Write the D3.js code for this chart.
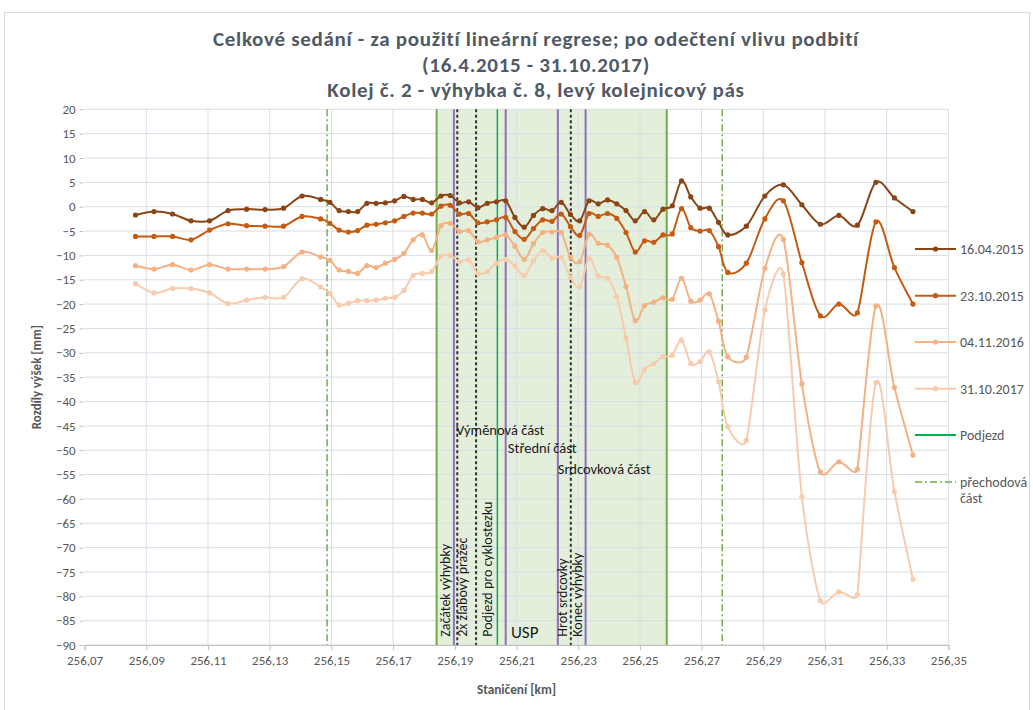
<!doctype html>
<html lang="cs">
  <head>
    <meta charset="utf-8">
    <title>Celkové sedání</title>
    <style>
      body { margin: 0; background: #fff; }
      text { font-family: Carlito, Calibri, Lato, "Open Sans", sans-serif; }
    </style>
  </head>
  <body>
    <div id="chart"></div>

    <script src="https://cdn.jsdelivr.net/npm/d3@7"></script>
    <script>

    // stations [km] - 6 m step at the ends, 3 m step through the turnout
    var stations = [
      256.0865, 256.0925, 256.0985, 256.1045, 256.1105, 256.1165, 256.1225, 256.1285, 256.1345, 256.1405, 256.1465,
      256.1495, 256.1525, 256.1555, 256.1585, 256.1615, 256.1645, 256.1675, 256.1705, 256.1735, 256.1765,
      256.1795, 256.1825, 256.1855, 256.1885, 256.1915, 256.1945, 256.1975, 256.2005, 256.2035, 256.2065,
      256.2095, 256.2125, 256.2155, 256.2185, 256.2215, 256.2245, 256.2275, 256.2305, 256.2335, 256.2365,
      256.2395, 256.2425, 256.2455, 256.2485, 256.2515, 256.2545, 256.2575, 256.2605, 256.2635, 256.2665,
      256.2695, 256.2725, 256.2755, 256.2785,
      256.2845, 256.2905, 256.2965, 256.3025, 256.3085, 256.3145, 256.3205, 256.3265, 256.3325, 256.3385
    ];

    var s16042015 = [
      -1.7, -1.0, -1.5, -2.9, -2.9, -0.8, -0.5, -0.6, -0.3, 2.2, 1.5,
      0.9, -0.8, -1.0, -1.0, 0.7, 0.7, 0.8, 1.2, 2.1, 1.5,
      1.5, 0.8, 2.2, 2.3, 0.8, 1.0, -0.2, 0.7, 1.0, 1.2,
      -2.2, -4.2, -1.8, -0.4, -0.8, 0.9, -1.6, -2.9, 1.2, 0.6,
      1.4, 0.6, -0.8, -2.9, -1.0, -2.7, -0.5, 0.2, 5.3, 2.0,
      -0.3, -0.3, -3.2, -5.8,
      -4.0, 2.2, 4.5, 0.4, -3.6, -1.8, -3.8, 5.0, 1.8, -1.0
    ];

    var s23102015 = [
      -6.1, -6.1, -6.1, -6.8, -4.8, -3.5, -3.9, -4.0, -4.0, -2.0, -2.5,
      -3.4, -4.8, -5.2, -4.9, -3.8, -3.6, -3.3, -2.9, -2.0, -1.3,
      -1.3, -1.5, 0.1, 0.3, -1.5, -1.4, -3.3, -3.1, -2.7, -2.2,
      -5.1, -6.7, -4.5, -2.7, -3.0, -1.5, -4.1, -5.9, -1.4, -2.0,
      -1.4, -2.4, -5.3, -9.3, -7.0, -7.3, -5.8, -5.6, -0.4, -4.3,
      -5.0, -4.9, -8.2, -13.5,
      -11.6, -2.5, 1.2, -11.5, -22.4, -20.0, -21.8, -3.1, -12.5, -20.0
    ];

    var s04112016 = [
      -12.1, -12.8, -11.9, -13.0, -11.9, -12.8, -12.8, -12.8, -12.3, -9.3, -10.3,
      -11.0, -13.0, -13.3, -13.7, -12.1, -12.5, -11.6, -10.8, -9.6, -6.8,
      -5.8, -9.0, -3.9, -3.4, -5.1, -4.9, -7.2, -6.8, -6.3, -5.8,
      -8.1, -10.8, -7.6, -5.3, -5.2, -5.3, -10.4, -11.3, -5.7, -7.5,
      -7.9, -10.4, -16.4, -23.4, -20.3, -19.6, -18.7, -19.0, -14.7, -19.4,
      -19.2, -17.9, -23.5, -30.8,
      -30.9, -12.7, -6.7, -36.4, -54.5, -52.4, -53.9, -20.4, -37.1, -51.0
    ];

    var s31102017 = [
      -15.8, -17.7, -16.8, -16.8, -17.7, -19.9, -19.2, -18.6, -18.6, -14.8, -16.5,
      -17.8, -20.2, -19.8, -19.3, -19.3, -19.2, -18.8, -18.6, -17.2, -14.1,
      -13.7, -13.3, -10.2, -10.0, -11.3, -10.9, -13.7, -13.3, -11.6, -10.8,
      -12.2, -14.1, -11.1, -9.0, -10.6, -10.4, -14.5, -16.4, -10.6, -14.2,
      -14.7, -18.5, -27.0, -36.1, -33.4, -32.2, -30.8, -30.5, -27.4, -32.2,
      -31.8, -29.8, -35.9, -45.2,
      -48.0, -21.2, -13.8, -59.5, -80.9, -79.1, -79.7, -36.1, -58.5, -76.5
    ];

    var seriesNames = ["16.04.2015", "23.10.2015", "04.11.2016", "31.10.2017"];
    var seriesValues = [s16042015, s23102015, s04112016, s31102017];
    var seriesColors = ["#8a4516", "#c55a11", "#f4b183", "#f8cbad"];

    var xTicks = [256.07, 256.09, 256.11, 256.13, 256.15, 256.17, 256.19, 256.21, 256.23, 256.25, 256.27, 256.29, 256.31, 256.33, 256.35];
    var yTicks = [20, 15, 10, 5, 0, -5, -10, -15, -20, -25, -30, -35, -40, -45, -50, -55, -60, -65, -70, -75, -80, -85, -90];

    // vertical markers [km]
    var transitionKm = [256.1486, 256.2767];   // přechodová část
    var turnoutArea = [256.1841, 256.2587];    // shaded section
    var purpleKm = [256.1897, 256.2065, 256.2234, 256.2324];
    var dashedKm = [256.1908, 256.1969, 256.2276];
    var underpassKm = [256.2038];              // Podjezd

    // annotations anchored in data units [km, mm]
    var verticalLabels = [
      { text: "Začátek výhybky", km: 256.1886, mm: -88.3 },
      { text: "2x žlabový pražec", km: 256.1940, mm: -88.3 },
      { text: "Podjezd pro cyklostezku", km: 256.2021, mm: -88.3 },
      { text: "Hrot srdcovky", km: 256.2264, mm: -88.3 },
      { text: "Konec výhybky", km: 256.2312, mm: -88.3 }
    ];
    var sectionLabels = [
      { text: "Výměnová část", km: 256.1904, mm: -46.9 },
      { text: "Střední část", km: 256.2072, mm: -50.6 },
      { text: "Srdcovková část", km: 256.2234, mm: -54.9 }
    ];

    var W = 1033, H = 710;
    var svg = d3.select("#chart").append("svg")
        .attr("width", W)
        .attr("height", H);

    var x = d3.scaleLinear().domain([256.07, 256.35]).range([84.6, 948.4]);
    var y = d3.scaleLinear().domain([-90, 20]).range([645, 109.3]);
    var comma = function(d){ return d3.format(".2f")(d).replace(".", ","); };

    // Excel-like smoothing: catmull-rom bezier arms, capped at half of the shorter neighbouring chord
    function smoothPath(pts) {
      var n = pts.length, p = d3.path();
      function arm(i) {
        var a = pts[Math.max(i - 1, 0)], b = pts[Math.min(i + 1, n - 1)], c = pts[i];
        var vx = (b[0] - a[0]) / 6, vy = (b[1] - a[1]) / 6;
        var len = Math.hypot(vx, vy);
        var dPrev = i > 0 ? Math.hypot(c[0] - a[0], c[1] - a[1]) : Infinity;
        var dNext = i < n - 1 ? Math.hypot(b[0] - c[0], b[1] - c[1]) : Infinity;
        var cap = 0.5 * Math.min(dPrev, dNext);
        if (len > cap && len > 0) { vx *= cap / len; vy *= cap / len; }
        return [vx, vy];
      }
      p.moveTo(pts[0][0], pts[0][1]);
      for (var i = 0; i < n - 1; i++) {
        var a0 = arm(i), a1 = arm(i + 1);
        p.bezierCurveTo(pts[i][0] + a0[0], pts[i][1] + a0[1],
                        pts[i + 1][0] - a1[0], pts[i + 1][1] - a1[1],
                        pts[i + 1][0], pts[i + 1][1]);
      }
      return p.toString();
    }

    // chart frame
    svg.append("rect")
      .attr("x", 4.5).attr("y", 12.5)
      .attr("width", 1025).attr("height", 700)
      .attr("fill", "#fff")
      .attr("stroke", "#d9d9d9");

    // shaded turnout section
    svg.append("rect")
      .attr("x", x(turnoutArea[0]))
      .attr("y", y(20))
      .attr("width", x(turnoutArea[1]) - x(turnoutArea[0]))
      .attr("height", y(-90) - y(20))
      .attr("fill", "#e3efdb");

    // gridlines
    svg.append("g")
      .selectAll("line")
      .data(yTicks)
      .join("line")
      .attr("x1", x(256.07)).attr("x2", x(256.35))
      .attr("y1", function(d){ return y(d); })
      .attr("y2", function(d){ return y(d); })
      .attr("stroke", "#d9dde6")
      .attr("stroke-width", 1);

    svg.append("g")
      .selectAll("line")
      .data(xTicks.slice(1))
      .join("line")
      .attr("x1", function(d){ return x(d); })
      .attr("x2", function(d){ return x(d); })
      .attr("y1", y(20)).attr("y2", y(-90))
      .attr("stroke", "#d9dde6")
      .attr("stroke-width", 1);

    // vertical marker lines
    function vlines(data, color, width, dash) {
      svg.append("g")
        .selectAll("line")
        .data(data)
        .join("line")
        .attr("x1", function(d){ return x(d); })
        .attr("x2", function(d){ return x(d); })
        .attr("y1", y(20)).attr("y2", y(-90))
        .attr("stroke", color)
        .attr("stroke-width", width)
        .attr("stroke-dasharray", dash);
    }
    vlines(turnoutArea, "#70ad47", 2, null);
    vlines(transitionKm, "#70ad47", 1.5, "7,3,2,3");
    vlines(purpleKm, "#8e72b8", 2, null);
    vlines(dashedKm, "#333", 2, "3,2.5");
    vlines(underpassKm, "#00b050", 1.5, null);

    // series
    seriesValues.slice().reverse().forEach(function(vals, ri){
      var i = seriesValues.length - 1 - ri;
      var pts = stations.map(function(s, k){ return [x(s), y(vals[k])]; });
      svg.append("path")
        .attr("d", smoothPath(pts))
        .attr("fill", "none")
        .attr("stroke", seriesColors[i])
        .attr("stroke-width", 2);
      svg.append("g")
        .selectAll("circle")
        .data(pts)
        .join("circle")
        .attr("cx", function(d){ return d[0]; })
        .attr("cy", function(d){ return d[1]; })
        .attr("r", 2.6)
        .attr("fill", seriesColors[i]);
    });

    // annotations
    svg.append("g")
      .selectAll("text")
      .data(verticalLabels)
      .join("text")
      .attr("transform", function(d){ return "translate(" + x(d.km) + "," + y(d.mm) + ") rotate(-90)"; })
      .attr("font-size", 14)
      .attr("fill", "#1a1a1a")
      .text(function(d){ return d.text; });

    svg.append("g")
      .selectAll("text")
      .data(sectionLabels)
      .join("text")
      .attr("x", function(d){ return x(d.km); })
      .attr("y", function(d){ return y(d.mm); })
      .attr("font-size", 14.5)
      .attr("fill", "#1a1a1a")
      .text(function(d){ return d.text; });

    svg.append("text")
      .attr("x", x(256.2082))
      .attr("y", y(-88.6))
      .attr("font-size", 17)
      .attr("fill", "#1a1a1a")
      .text("USP");

    // axes
    var xAxis = svg.append("g")
      .attr("transform", "translate(0," + y(-90) + ")")
      .call(d3.axisBottom(x).tickValues(xTicks).tickFormat(comma).tickSize(5).tickPadding(6));
    xAxis.select(".domain").attr("stroke", "#bfbfbf");
    xAxis.selectAll(".tick line").attr("stroke", "#bfbfbf");
    xAxis.selectAll("text").attr("font-size", 13).attr("fill", "#595959")
      .style("font-family", "Carlito, Calibri, Lato, sans-serif");

    var yAxis = svg.append("g")
      .attr("transform", "translate(" + (x(256.07) - 1) + ",0)")
      .call(d3.axisLeft(y).tickValues(yTicks).tickSize(4).tickPadding(4));
    yAxis.select(".domain").remove();
    yAxis.selectAll(".tick line").attr("stroke", "#bfbfbf");
    yAxis.selectAll("text").attr("font-size", 13).attr("fill", "#595959")
      .style("font-family", "Carlito, Calibri, Lato, sans-serif");

    svg.append("text")
      .attr("x", (x(256.07) + x(256.35)) / 2)
      .attr("y", 694)
      .attr("text-anchor", "middle")
      .attr("font-size", 13.3)
      .attr("font-weight", "bold")
      .attr("fill", "#595959")
      .text("Staničení [km]");

    svg.append("text")
      .attr("transform", "translate(41," + ((y(20) + y(-90)) / 2) + ") rotate(-90)")
      .attr("text-anchor", "middle")
      .attr("font-size", 13)
      .attr("font-weight", "bold")
      .attr("fill", "#595959")
      .text("Rozdíly výšek [mm]");

    // legend
    var legendY = [249, 295.7, 342, 388.7, 435, 482];
    var legend = svg.append("g");
    seriesNames.forEach(function(name, i){
      legend.append("line")
        .attr("x1", 915).attr("x2", 956)
        .attr("y1", legendY[i]).attr("y2", legendY[i])
        .attr("stroke", seriesColors[i]).attr("stroke-width", 2);
      legend.append("circle")
        .attr("cx", 935.5).attr("cy", legendY[i]).attr("r", 2.6)
        .attr("fill", seriesColors[i]);
      legend.append("text")
        .attr("x", 960).attr("y", legendY[i]).attr("dy", "0.35em")
        .attr("font-size", 14).attr("fill", "#595959")
        .text(name);
    });
    legend.append("line")
      .attr("x1", 915).attr("x2", 956)
      .attr("y1", legendY[4]).attr("y2", legendY[4])
      .attr("stroke", "#00b050").attr("stroke-width", 2);
    legend.append("text")
      .attr("x", 960).attr("y", legendY[4]).attr("dy", "0.35em")
      .attr("font-size", 14).attr("fill", "#595959")
      .text("Podjezd");
    legend.append("line")
      .attr("x1", 915).attr("x2", 956)
      .attr("y1", legendY[5]).attr("y2", legendY[5])
      .attr("stroke", "#70ad47").attr("stroke-width", 1.5)
      .attr("stroke-dasharray", "7,3,2,3");
    legend.append("text")
      .attr("x", 960).attr("y", legendY[5]).attr("dy", "0.35em")
      .attr("font-size", 14).attr("fill", "#595959")
      .text("přechodová");
    legend.append("text")
      .attr("x", 960).attr("y", legendY[5] + 16.5).attr("dy", "0.35em")
      .attr("font-size", 14).attr("fill", "#595959")
      .text("část");

    // title
    var titleLines = [
      "Celkové sedání - za použití lineární regrese; po odečtení vlivu podbití",
      "(16.4.2015 - 31.10.2017)",
      "Kolej č. 2 - výhybka č. 8, levý kolejnicový pás"
    ];
    var title = svg.append("g")
      .selectAll("text")
      .data(titleLines)
      .join("text")
      .attr("x", 536)
      .attr("y", function(d, i){ return 46 + i * 25.5; })
      .attr("text-anchor", "middle")
      .attr("font-size", 21)
      .attr("font-weight", "bold")
      .attr("fill", "#505a66")
      .text(function(d){ return d; });

    // widen the first line to the reference width with a little letter spacing
    var w0 = title.node().getComputedTextLength();
    var ls = Math.max(0, Math.min(1.2, (645 - w0) / (titleLines[0].length - 1)));
    title.attr("letter-spacing", ls);

    </script>
  </body>
</html>
